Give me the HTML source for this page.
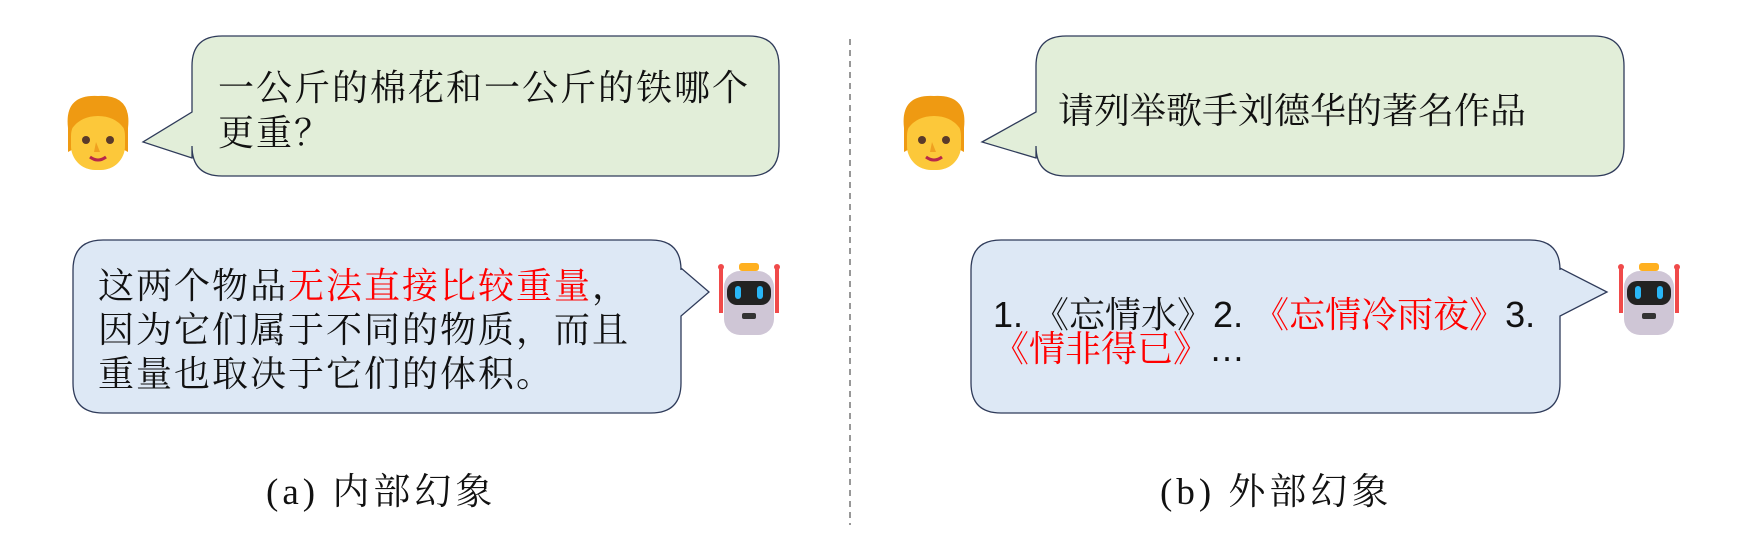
<!DOCTYPE html>
<html><head><meta charset="utf-8"><style>
body{margin:0;width:1750px;height:541px;background:#fff;position:relative;overflow:hidden;font-family:"Liberation Serif","Noto Serif CJK SC",serif}
.t{position:absolute;font-size:36px;color:#111;white-space:nowrap;line-height:45px}
.ls{letter-spacing:2px}
.r{color:#f00}
.s{font-family:"Liberation Sans","Noto Serif CJK SC",sans-serif}
</style></head><body>
<svg width="1750" height="541" style="position:absolute;left:0;top:0">
<defs>
<g id="face">
<path d="M2,34 Q-2,0 32,2 Q66,0 62,34 L62,58 Q40,46 32,44 Q24,46 2,58Z" fill="#ef9a12"/>
<rect x="5" y="18" width="54" height="58" rx="24" fill="#fcc83a"/>
<path d="M5,36 Q8,12 32,12 Q56,12 59,36 Q50,22 32,22 Q14,22 5,36Z" fill="#ef9a12"/>
<circle cx="20" cy="46" r="4" fill="#5a3a2a"/><circle cx="44" cy="46" r="4" fill="#5a3a2a"/>
<path d="M30,48 L28,58 L34,58Z" fill="#f0a020"/>
<path d="M24,63 Q32,69 40,63" stroke="#b8284a" stroke-width="3" fill="none"/>
</g>
<g id="bot">
<line x1="6" y1="4" x2="6" y2="50" stroke="#f04a4a" stroke-width="4"/>
<line x1="62" y1="4" x2="62" y2="50" stroke="#f04a4a" stroke-width="4"/>
<circle cx="6" cy="4" r="3" fill="#f04a4a"/><circle cx="62" cy="4" r="3" fill="#f04a4a"/>
<rect x="24" y="0" width="20" height="8" rx="3" fill="#ffb020"/>
<rect x="9" y="8" width="50" height="64" rx="16" fill="#cfc6d6"/>
<rect x="12" y="18" width="44" height="24" rx="10" fill="#222"/>
<rect x="20" y="23" width="6" height="13" rx="3" fill="#29b6f6"/><rect x="42" y="23" width="6" height="13" rx="3" fill="#29b6f6"/>
<rect x="27" y="50" width="14" height="6" rx="2" fill="#333"/>
</g>
</defs>
<g stroke="#2f3b5a" stroke-width="1.3">
<path d="M222,36 H749 Q779,36 779,66 V146 Q779,176 749,176 H222 Q192,176 192,146 V158 L143,142 L192,112 V66 Q192,36 222,36Z" fill="#e2eed9"/>
<path d="M103,240 H651 Q681,240 681,270 V268 L709,292 L681,316 V383 Q681,413 651,413 H103 Q73,413 73,383 V270 Q73,240 103,240Z" fill="#dde8f5"/>
<path d="M1066,36 H1594 Q1624,36 1624,66 V146 Q1624,176 1594,176 H1066 Q1036,176 1036,146 V158 L982,142 L1036,112 V66 Q1036,36 1066,36Z" fill="#e2eed9"/>
<path d="M1001,240 H1530 Q1560,240 1560,270 V268 L1607,292 L1560,316 V383 Q1560,413 1530,413 H1001 Q971,413 971,383 V270 Q971,240 1001,240Z" fill="#dde8f5"/>
</g>
<line x1="850" y1="39" x2="850" y2="525" stroke="#777" stroke-width="1.5" stroke-dasharray="6,5"/>
<use href="#face" x="66" y="94"/>
<use href="#face" x="902" y="94"/>
<use href="#bot" x="715" y="263"/>
<use href="#bot" x="1615" y="263"/>
</svg>
<div class="t ls" style="left:218px;top:66px">一公斤的棉花和一公斤的铁哪个</div>
<div class="t ls" style="left:218px;top:111px">更重？</div>
<div class="t ls" style="left:98px;top:264px">这两个物品<span class="r">无法直接比较重量</span>，</div>
<div class="t ls" style="left:98px;top:308px">因为它们属于不同的物质，而且</div>
<div class="t ls" style="left:98px;top:352px">重量也取决于它们的体积。</div>
<div class="t" style="left:1058px;top:89px">请列举歌手刘德华的著名作品</div>
<div class="t" style="left:993px;top:292px"><span class="s">1. </span>《忘情水》<span class="s">2. </span><span class="r">《忘情冷雨夜》</span><span class="s">3.</span></div>
<div class="t" style="left:993px;top:326px"><span class="r">《情非得已》</span><span class="s">…</span></div>
<div class="t" style="left:266px;top:470px;font-size:37px;letter-spacing:4px">(a) 内部幻象</div>
<div class="t" style="left:1160px;top:470px;font-size:37px;letter-spacing:4px">(b) 外部幻象</div>
</body></html>
